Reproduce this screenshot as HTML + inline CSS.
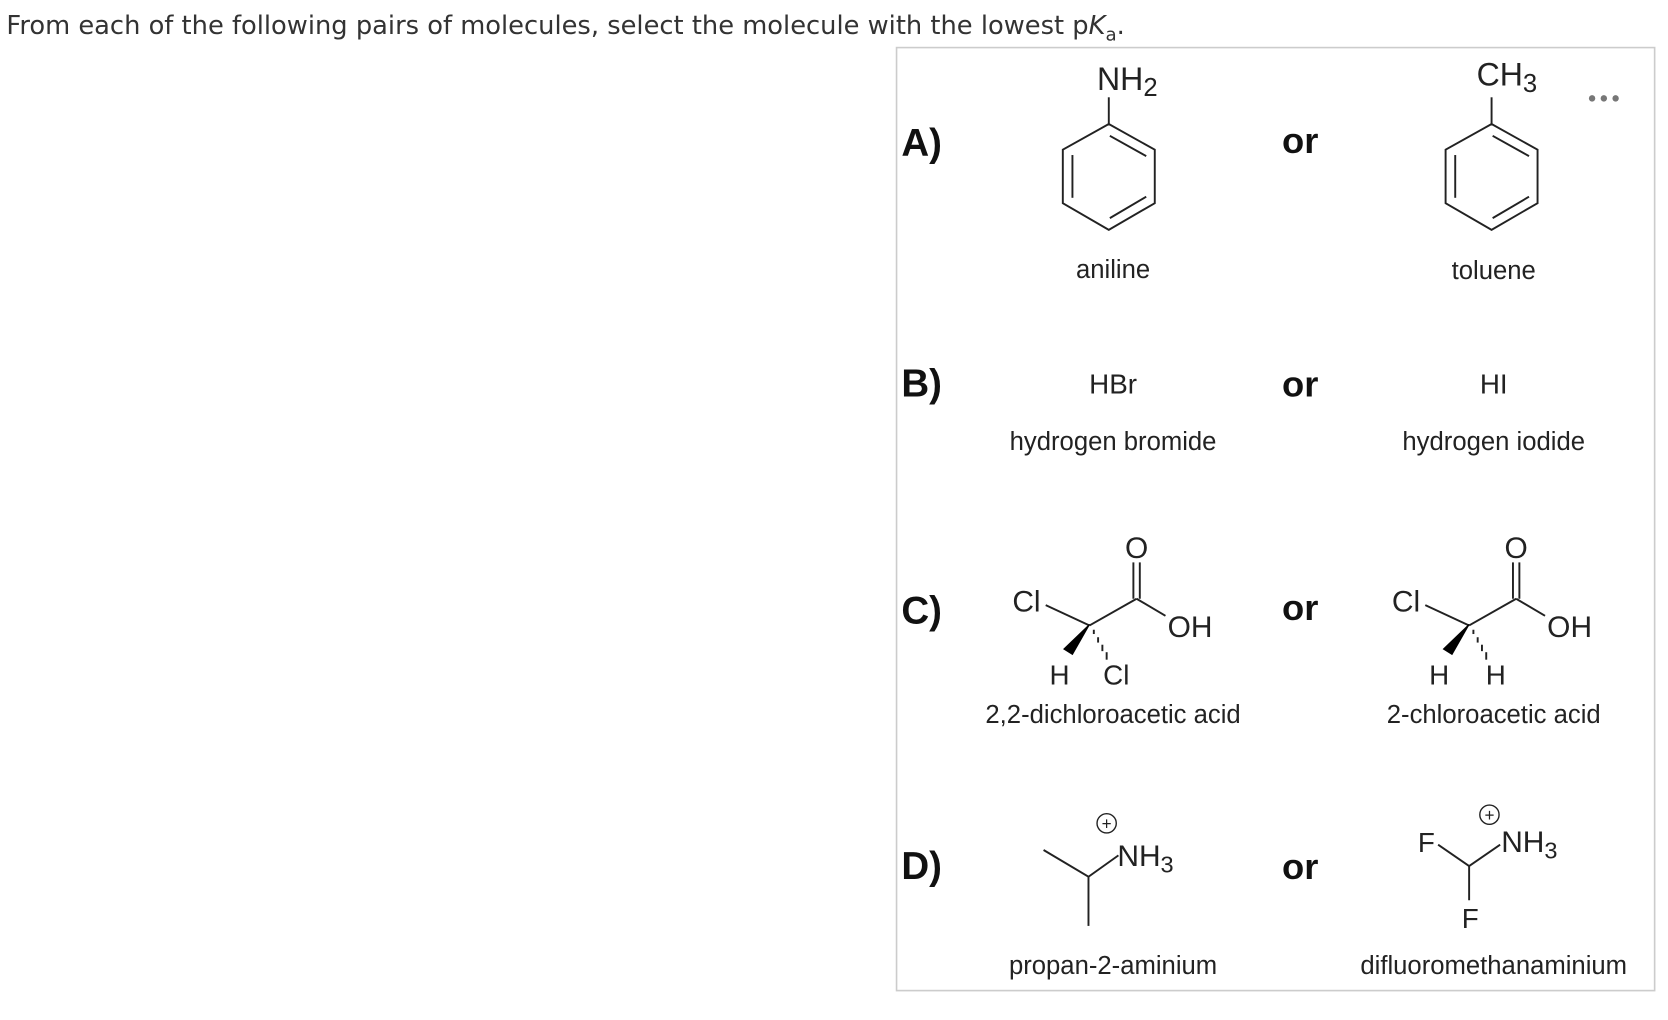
<!DOCTYPE html>
<html><head><meta charset="utf-8"><style>
html,body{margin:0;padding:0;background:#fff;}
svg{display:block;}
.t{font-family:"Liberation Sans",Arial,sans-serif;fill:#222;}
.b{font-family:"Liberation Sans",Arial,sans-serif;font-weight:bold;fill:#111;}
line,polyline{stroke:#222;stroke-width:1.8;fill:none;}
.ring{stroke:#222;stroke-width:1.8;fill:none;}
</style></head><body>
<svg width="1668" height="1020" viewBox="0 0 1560 954" preserveAspectRatio="none" xmlns="http://www.w3.org/2000/svg">
<text x="6" y="32" font-family="'DejaVu Sans','Liberation Sans',sans-serif" font-size="24" fill="#333" textLength="1046" lengthAdjust="spacingAndGlyphs">From each of the following pairs of molecules, select the molecule with the lowest p<tspan font-style="italic">K</tspan><tspan font-size="17" dy="6">a</tspan><tspan dy="-6">.</tspan></text>
<rect x="838.5" y="44.5" width="709" height="882" fill="none" stroke="#ccc" stroke-width="1.5"/>
<!-- A -->
<text class="b" x="843" y="146" font-size="36">A)</text>
<text class="t" x="1026" y="84" font-size="30">NH<tspan font-size="24" dy="6">2</tspan></text>
<line x1="1037" y1="91" x2="1037" y2="116"/>
<polygon class="ring" points="1037,116 1080,140 1080,190 1037,215 994,190 994,140"/>
<line x1="1038" y1="127" x2="1072" y2="146"/>
<line x1="1003" y1="145" x2="1003" y2="185"/>
<line x1="1038" y1="204" x2="1072" y2="184"/>
<text class="t" x="1041" y="260" font-size="24" text-anchor="middle">aniline</text>
<text class="b" x="1216" y="143" font-size="34" text-anchor="middle">or</text>
<text class="t" x="1381" y="80" font-size="30">CH<tspan font-size="24" dy="6">3</tspan></text>
<line x1="1395" y1="91" x2="1395" y2="116"/>
<polygon class="ring" points="1395,116 1438,140 1438,190 1395,215 1352,190 1352,140"/>
<line x1="1396" y1="127" x2="1430" y2="146"/>
<line x1="1361" y1="145" x2="1361" y2="185"/>
<line x1="1396" y1="204" x2="1430" y2="184"/>
<text class="t" x="1397" y="261" font-size="24" text-anchor="middle">toluene</text>
<circle cx="1489" cy="92" r="3" fill="#777"/><circle cx="1500" cy="92" r="3" fill="#777"/><circle cx="1511" cy="92" r="3" fill="#777"/>
<!-- B -->
<text class="b" x="843" y="371" font-size="36">B)</text>
<text class="t" x="1041" y="368" font-size="26" text-anchor="middle">HBr</text>
<text class="b" x="1216" y="371" font-size="34" text-anchor="middle">or</text>
<text class="t" x="1397" y="368" font-size="26" text-anchor="middle">HI</text>
<text class="t" x="1041" y="421" font-size="24" text-anchor="middle">hydrogen bromide</text>
<text class="t" x="1397" y="421" font-size="24" text-anchor="middle">hydrogen iodide</text>
<!-- C -->
<text class="b" x="843" y="583" font-size="36">C)</text>
<text class="b" x="1216" y="580" font-size="34" text-anchor="middle">or</text>
<g id="c1">
<text class="t" x="960" y="572" font-size="28" text-anchor="middle">Cl</text>
<line x1="978" y1="566" x2="1019" y2="585"/>
<line x1="1019" y1="585" x2="1063" y2="560"/>
<line x1="1060" y1="560" x2="1060" y2="526"/>
<line x1="1066" y1="560" x2="1066" y2="526"/>
<text class="t" x="1063" y="522" font-size="28" text-anchor="middle">O</text>
<line x1="1063" y1="560" x2="1090" y2="576"/>
<text class="t" x="1113" y="596" font-size="28" text-anchor="middle">OH</text>
<polygon points="1019,584 1003,612 995,607" style="fill:#000;stroke:#000;stroke-width:1"/>
<line x1="1023" y1="589" x2="1023" y2="593" stroke-width="1.6"/>
<line x1="1027" y1="596" x2="1027" y2="601" stroke-width="1.6"/>
<line x1="1031" y1="603" x2="1031" y2="609" stroke-width="1.6"/>
<line x1="1035" y1="610" x2="1035" y2="617" stroke-width="1.6"/>
<text class="t" x="991" y="640" font-size="26" text-anchor="middle">H</text>
</g>
<text class="t" x="1044" y="640" font-size="26" text-anchor="middle">Cl</text>
<text class="t" x="1041" y="676" font-size="24" text-anchor="middle">2,2-dichloroacetic acid</text>
<use href="#c1" x="355"/>
<text class="t" x="1399" y="640" font-size="26" text-anchor="middle">H</text>
<text class="t" x="1397" y="676" font-size="24" text-anchor="middle">2-chloroacetic acid</text>
<!-- D -->
<text class="b" x="843" y="822" font-size="36">D)</text>
<text class="b" x="1216" y="822" font-size="34" text-anchor="middle">or</text>
<polyline points="976,795 1018,820 1046,800"/>
<line x1="1018" y1="820" x2="1018" y2="866"/>
<circle cx="1035" cy="770" r="9" stroke="#222" stroke-width="1.3" fill="none"/>
<text class="t" x="1035" y="776" font-size="16" text-anchor="middle">+</text>
<text class="t" x="1045" y="810" font-size="28">NH<tspan font-size="22" dy="6">3</tspan></text>
<text class="t" x="1041" y="911" font-size="24" text-anchor="middle">propan-2-aminium</text>
<text class="t" x="1334" y="797" font-size="26" text-anchor="middle">F</text>
<polyline points="1345,790 1374,810 1403,790"/>
<line x1="1374" y1="810" x2="1374" y2="842"/>
<text class="t" x="1375" y="868" font-size="26" text-anchor="middle">F</text>
<circle cx="1393" cy="762" r="9" stroke="#222" stroke-width="1.3" fill="none"/>
<text class="t" x="1393" y="768" font-size="16" text-anchor="middle">+</text>
<text class="t" x="1404" y="797" font-size="28">NH<tspan font-size="22" dy="6">3</tspan></text>
<text class="t" x="1397" y="911" font-size="24" text-anchor="middle">difluoromethanaminium</text>
</svg>
</body></html>
